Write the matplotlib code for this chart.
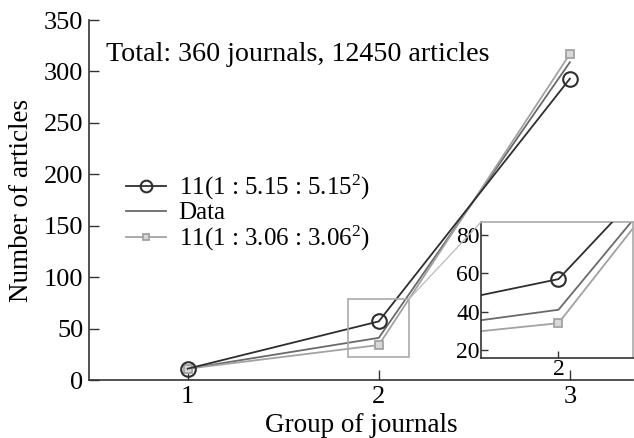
import matplotlib
matplotlib.use("Agg")
import matplotlib.pyplot as plt
from matplotlib.patches import Rectangle, ConnectionPatch

plt.rcParams['font.family'] = ['Liberation Serif', 'DejaVu Serif']
plt.rcParams['mathtext.fontset'] = 'custom'
plt.rcParams['mathtext.rm'] = 'Liberation Serif'
plt.rcParams['mathtext.it'] = 'Liberation Serif:italic'
plt.rcParams['mathtext.default'] = 'regular'

groups = [1, 2, 3]
model_515 = [11, 57, 293]
data_vals = [11, 41, 309]
model_306 = [11, 34, 317]
labels = ["11(1 : 5.15 : 5.15$^2$)", "Data", "11(1 : 3.06 : 3.06$^2$)"]
yticks = [0, 50, 100, 150, 200, 250, 300, 350]
xticks = [1, 2, 3]
inset_yticks = [20, 40, 60, 80]
zoom_box = (1.837, 2.158, 22.4, 78.7)
inset_xlim = (1.818, 2.175)
inset_ylim = (15.8, 86.8)

c1, c2, c3 = '#2e2e2e', '#6a6a6a', '#a2a2a2'
spine_c = '#333333'

fig = plt.figure(figsize=(6.34, 4.38), dpi=100)
ax = fig.add_axes([0.1404, 0.1324, 0.858, 0.8219])

def draw(a, ms1=10.5, ms3=5.5):
    a.plot(groups, model_515, color=c1, lw=1.3, marker='o', ms=ms1, mfc='none',
           mec=c1, mew=1.5, label=labels[0], zorder=3)
    a.plot(groups, data_vals, color=c2, lw=1.3, label=labels[1], zorder=2)
    a.plot(groups, model_306, color=c3, lw=1.3, marker='s', ms=ms3, mfc='#d8d8d8',
           mec=c3, mew=1.3, label=labels[2], zorder=2)

draw(ax)
ax.set_xlim(0.484, 3.33)
ax.set_ylim(0, 350)
ax.set_xticks(xticks)
ax.set_yticks(yticks)
for s in ['top', 'right']:
    ax.spines[s].set_visible(False)
for s in ['left', 'bottom']:
    ax.spines[s].set_color(spine_c)
    ax.spines[s].set_linewidth(1.2)
ax.tick_params(direction='in', length=7, width=1.0, color=spine_c, labelsize=19, pad=4)
ax.set_xlabel("Group of journals", fontsize=19.5, labelpad=4)
ax.set_ylabel("Number of articles", fontsize=19.5, labelpad=7)
ax.text(0.032, 0.905, "Total: 360 journals, 12450 articles", transform=ax.transAxes,
        fontsize=20.2, va='center', ha='left')

leg = ax.legend(loc='upper left', bbox_to_anchor=(0.068, 0.576), frameon=False, fontsize=18,
                handlelength=1.6, handletextpad=0.5, labelspacing=0.0, borderaxespad=0,
                borderpad=0, markerscale=0.8)

x0, x1, y0, y1 = zoom_box
rect = Rectangle((x0, y0), x1 - x0, y1 - y0, fill=False, ec='#aaaaaa', lw=1.2, zorder=4)
ax.add_patch(rect)

axin = fig.add_axes([0.7587, 0.1826, 0.2397, 0.3105])
draw(axin, ms1=10.5, ms3=5.5)
axin.set_xlim(*inset_xlim)
axin.set_ylim(*inset_ylim)
axin.set_xticks([2])
axin.set_yticks(inset_yticks)
for s in ['top', 'right']:
    axin.spines[s].set_color('#aaaaaa')
    axin.spines[s].set_linewidth(1.2)
for s in ['left', 'bottom']:
    axin.spines[s].set_color(spine_c)
    axin.spines[s].set_linewidth(1.2)
axin.tick_params(direction='in', length=5, width=1.0, color=spine_c, labelsize=17, pad=1)

con = ConnectionPatch(xyA=(x1, y1), coordsA=ax.transData,
                      xyB=(0, 1), coordsB=axin.transAxes, color='#bbbbbb', lw=0.9)
fig.add_artist(con)

fig.savefig("out.png", dpi=100)
